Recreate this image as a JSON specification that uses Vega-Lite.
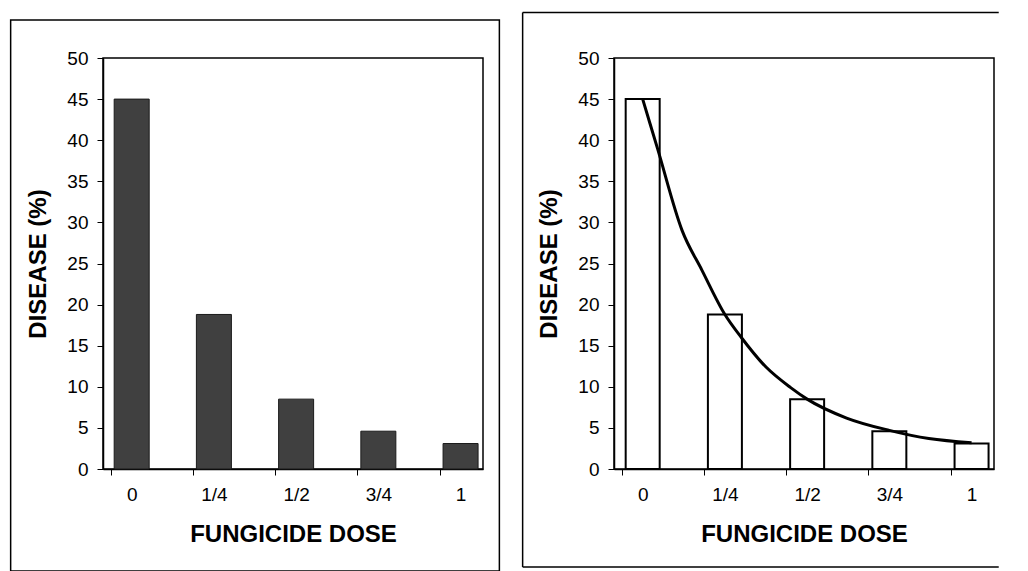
{
  "$schema": "https://vega.github.io/schema/vega-lite/v6.json",
  "background": "white",
  "padding": {"left": 9, "top": 10, "right": 0, "bottom": 0},
  "spacing": 20,
  "bounds": "full",
  "datasets": {
    "bars": [
      {"dose": 0, "disease": 45},
      {"dose": 0.25, "disease": 18.8},
      {"dose": 0.5, "disease": 8.5},
      {"dose": 0.75, "disease": 4.6},
      {"dose": 1, "disease": 3.1}
    ],
    "curve": [
      {"dose": 0, "disease": 45},
      {"dose": 0.045, "disease": 39},
      {"dose": 0.12, "disease": 29},
      {"dose": 0.18, "disease": 24.2},
      {"dose": 0.25, "disease": 18.8},
      {"dose": 0.3, "disease": 16},
      {"dose": 0.375, "disease": 12.4},
      {"dose": 0.45, "disease": 9.9},
      {"dose": 0.5, "disease": 8.5},
      {"dose": 0.62, "disease": 6.2},
      {"dose": 0.75, "disease": 4.7},
      {"dose": 0.87, "disease": 3.7},
      {"dose": 1, "disease": 3.2}
    ],
    "frame": [{}]
  },
  "config": {
    "font": "Liberation Sans",
    "view": {"stroke": "black", "strokeWidth": 1.5},
    "axis": {
      "grid": false,
      "domainColor": "black",
      "domainWidth": 1.5,
      "tickColor": "black",
      "tickWidth": 1,
      "tickSize": 6,
      "labelColor": "black",
      "labelFontSize": 19,
      "labelPadding": 10,
      "titleColor": "black",
      "titleFontWeight": "bold"
    },
    "axisX": {"titleFontSize": 24, "titlePadding": 18},
    "axisY": {"titleFontSize": 24, "titlePadding": 16, "labelPadding": 9}
  },
  "hconcat": [
    {
      "width": 380,
      "height": 411,
      "layer": [
        {
          "data": {"name": "frame"},
          "mark": {"type": "rect", "fill": "white", "fillOpacity": 0, "stroke": "black", "strokeWidth": 1.5},
          "encoding": {
            "x": {"datum": -0.368, "type": "quantitative"},
            "x2": {"datum": 1.118},
            "y": {"datum": 54.62, "type": "quantitative"},
            "y2": {"datum": -12.41}
          }
        },
        {
          "data": {"name": "bars"},
          "mark": {"type": "bar", "orient": "vertical", "size": 35, "fill": "#404040", "stroke": "#1a1a1a", "strokeWidth": 1},
          "encoding": {
            "x": {
              "field": "dose", "type": "quantitative",
              "scale": {"domain": [-0.072, 1.053], "nice": false, "zero": false},
              "axis": {
                "title": "FUNGICIDE DOSE",
                "values": [0, 0.25, 0.5, 0.75, 1],
                "labelExpr": "datum.value == 0 ? '0' : datum.value == 0.25 ? '1/4' : datum.value == 0.5 ? '1/2' : datum.value == 0.75 ? '3/4' : '1'",
                "tickOffset": -21,
                "labelOffset": 21,
                "labelFlush": false,
                "labelOverlap": false
              }
            },
            "y": {
              "field": "disease", "type": "quantitative", "stack": null,
              "scale": {"domain": [0, 50], "nice": false},
              "axis": {"title": "DISEASE (%)", "values": [0, 5, 10, 15, 20, 25, 30, 35, 40, 45, 50]}
            }
          }
        }
      ]
    },
    {
      "width": 380,
      "height": 411,
      "layer": [
        {
          "data": {"name": "frame"},
          "mark": {"type": "rule", "color": "black", "strokeWidth": 1.5},
          "encoding": {
            "x": {"datum": -0.365, "type": "quantitative"},
            "x2": {"datum": 1.0826},
            "y": {"datum": 55.54, "type": "quantitative"}
          }
        },
        {
          "data": {"name": "frame"},
          "mark": {"type": "rule", "color": "black", "strokeWidth": 1.5},
          "encoding": {
            "x": {"datum": -0.365, "type": "quantitative"},
            "x2": {"datum": 1.0826},
            "y": {"datum": -11.92, "type": "quantitative"}
          }
        },
        {
          "data": {"name": "frame"},
          "mark": {"type": "rule", "color": "black", "strokeWidth": 1.5},
          "encoding": {
            "x": {"datum": -0.365, "type": "quantitative"},
            "y": {"datum": 55.54, "type": "quantitative"},
            "y2": {"datum": -11.92}
          }
        },
        {
          "data": {"name": "bars"},
          "mark": {"type": "bar", "orient": "vertical", "size": 34, "fill": "white", "stroke": "black", "strokeWidth": 2},
          "encoding": {
            "x": {
              "field": "dose", "type": "quantitative",
              "scale": {"domain": [-0.072, 1.053], "nice": false, "zero": false},
              "axis": {
                "title": "FUNGICIDE DOSE",
                "values": [0, 0.25, 0.5, 0.75, 1],
                "labelExpr": "datum.value == 0 ? '0' : datum.value == 0.25 ? '1/4' : datum.value == 0.5 ? '1/2' : datum.value == 0.75 ? '3/4' : '1'",
                "tickOffset": -21,
                "labelOffset": 21,
                "labelFlush": false,
                "labelOverlap": false
              }
            },
            "y": {
              "field": "disease", "type": "quantitative", "stack": null,
              "scale": {"domain": [0, 50], "nice": false},
              "axis": {"title": "DISEASE (%)", "values": [0, 5, 10, 15, 20, 25, 30, 35, 40, 45, 50]}
            }
          }
        },
        {
          "data": {"name": "curve"},
          "mark": {"type": "line", "color": "black", "strokeWidth": 3, "interpolate": "monotone"},
          "encoding": {
            "x": {"field": "dose", "type": "quantitative"},
            "y": {"field": "disease", "type": "quantitative"}
          }
        }
      ]
    }
  ]
}
